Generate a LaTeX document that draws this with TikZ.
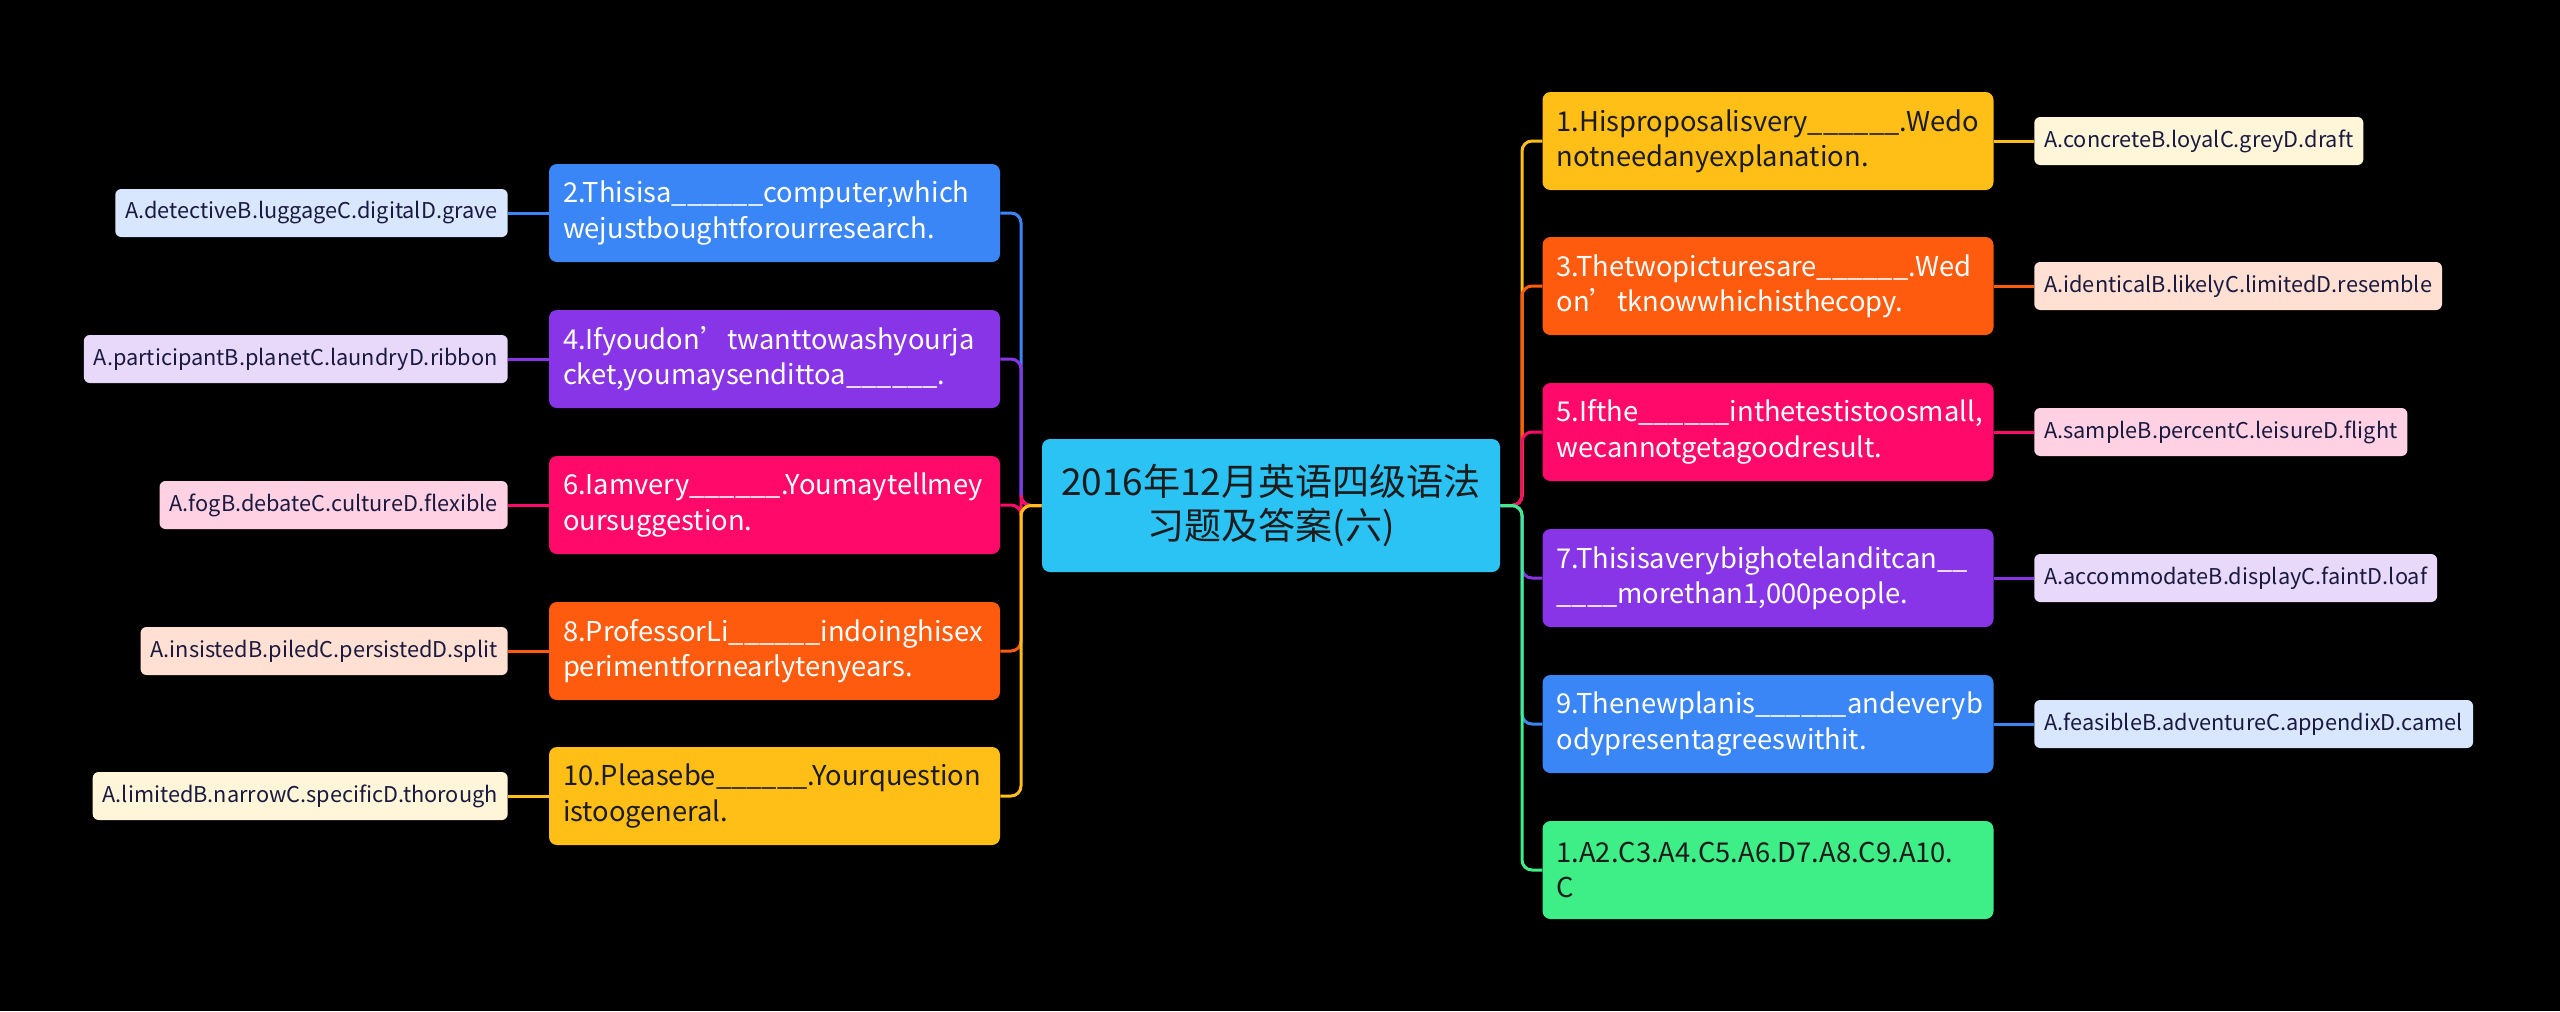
\documentclass[tikz,border=0pt]{standalone}
\usepackage{fontspec}
\setmainfont{Noto Sans CJK SC}
\newfontfamily\cjk{Noto Sans CJK SC}
\definecolor{cYel}{HTML}{FFBF17}
\definecolor{cOra}{HTML}{FF5B0F}
\definecolor{cPnk}{HTML}{FF0A6A}
\definecolor{cPur}{HTML}{8835E8}
\definecolor{cBlu}{HTML}{3B86F7}
\definecolor{cGrn}{HTML}{3DEF86}
\definecolor{cCya}{HTML}{2BC3F3}
\definecolor{lYel}{HTML}{FFF6DA}
\definecolor{lOra}{HTML}{FFE0D2}
\definecolor{lPnk}{HTML}{FFD1E3}
\definecolor{lPur}{HTML}{E8D9FB}
\definecolor{lBlu}{HTML}{D9E7FE}
\definecolor{dTxt}{HTML}{1C1C1C}
\definecolor{aTxt}{HTML}{1A1A40}
\begin{document}
\begin{tikzpicture}[x=0.75pt,y=-0.75pt,
  topic/.style={rounded corners=6pt, minimum width=338.25pt, minimum height=73.5pt,
    text width=317.25pt, inner xsep=10.5pt, inner ysep=0pt, align=left,
    font=\fontsize{20.5}{26.5}\selectfont},
  ans/.style={rounded corners=4.5pt, minimum height=36pt, inner xsep=7.5pt, inner ysep=0pt,
    text=aTxt, font=\fontsize{16.3}{18}\selectfont},
  link/.style={line width=2.25pt, rounded corners=7.5pt}]
\fill[black] (0,0) rectangle (2560,1011);
\useasboundingbox (0,0) rectangle (2560,1011);

% central
\node[rounded corners=6pt, fill=cCya, text=dTxt, minimum width=343.5pt, minimum height=99.75pt,
  align=center, font=\cjk\fontsize{27.8}{33}\selectfont] (c) at (1271,505.5)
  {2016年12月英语四级语法\\习题及答案(六)};

% left topics
\node[topic, fill=cBlu, text=white] (n2) at (774.5,213) {2.Thisisa\_\_\_\_\_\_computer,which\\wejustboughtforourresearch.};
\node[topic, fill=cPur, text=white] (n4) at (774.5,359) {4.Ifyoudon’twanttowashyourja\\cket,youmaysendittoa\_\_\_\_\_\_.};
\node[topic, fill=cPnk, text=white] (n6) at (774.5,505) {6.Iamvery\_\_\_\_\_\_.Youmaytellmey\\oursuggestion.};
\node[topic, fill=cOra, text=white] (n8) at (774.5,651) {8.ProfessorLi\_\_\_\_\_\_indoinghisex\\perimentfornearlytenyears.};
\node[topic, fill=cYel, text=dTxt] (n10) at (774.5,796) {10.Pleasebe\_\_\_\_\_\_.Yourquestion\\istoogeneral.};

% right topics
\node[topic, fill=cYel, text=dTxt] (n1) at (1768,141) {1.Hisproposalisvery\_\_\_\_\_\_.Wedo\\notneedanyexplanation.};
\node[topic, fill=cOra, text=white] (n3) at (1768,286) {3.Thetwopicturesare\_\_\_\_\_\_.Wed\\on’tknowwhichisthecopy.};
\node[topic, fill=cPnk, text=white] (n5) at (1768,432) {5.Ifthe\_\_\_\_\_\_inthetestistoosmall,\\wecannotgetagoodresult.};
\node[topic, fill=cPur, text=white] (n7) at (1768,578) {7.Thisisaverybighotelanditcan\_\_\\\_\_\_\_morethan1,000people.};
\node[topic, fill=cBlu, text=white] (n9) at (1768,724) {9.Thenewplanis\_\_\_\_\_\_andeveryb\\odypresentagreeswithit.};
\node[topic, fill=cGrn, text=dTxt] (nk) at (1768,870) {1.A2.C3.A4.C5.A6.D7.A8.C9.A10.\\C};

% left answers
\node[ans, fill=lBlu, anchor=east] (a2) at (508,213) {A.detectiveB.luggageC.digitalD.grave};
\node[ans, fill=lPur, anchor=east] (a4) at (508,359) {A.participantB.planetC.laundryD.ribbon};
\node[ans, fill=lPnk, anchor=east] (a6) at (508,505) {A.fogB.debateC.cultureD.flexible};
\node[ans, fill=lOra, anchor=east] (a8) at (508,651) {A.insistedB.piledC.persistedD.split};
\node[ans, fill=lYel, anchor=east] (a10) at (508,796) {A.limitedB.narrowC.specificD.thorough};

% right answers
\node[ans, fill=lYel, anchor=west] (a1) at (2034,141) {A.concreteB.loyalC.greyD.draft};
\node[ans, fill=lOra, anchor=west] (a3) at (2034,286) {A.identicalB.likelyC.limitedD.resemble};
\node[ans, fill=lPnk, anchor=west] (a5) at (2034,432) {A.sampleB.percentC.leisureD.flight};
\node[ans, fill=lPur, anchor=west] (a7) at (2034,578) {A.accommodateB.displayC.faintD.loaf};
\node[ans, fill=lBlu, anchor=west] (a9) at (2034,724) {A.feasibleB.adventureC.appendixD.camel};

% left branches
\draw[link, cBlu] (c.west) -- (1021,505.5) |- (n2.east);
\draw[link, cPur] (c.west) -- (1021,505.5) |- (n4.east);
\draw[link, cPnk] (c.west) -- (1021,505.5) |- (n6.east);
\draw[link, cOra] (c.west) -- (1021,505.5) |- (n8.east);
\draw[link, cYel] (c.west) -- (1021,505.5) |- (n10.east);
% right branches
\draw[link, cYel] (c.east) -- (1522,505.5) |- (n1.west);
\draw[link, cOra] (c.east) -- (1522,505.5) |- (n3.west);
\draw[link, cPnk] (c.east) -- (1522,505.5) |- (n5.west);
\draw[link, cPur] (c.east) -- (1522,505.5) |- (n7.west);
\draw[link, cBlu] (c.east) -- (1522,505.5) |- (n9.west);
\draw[link, cGrn] (c.east) -- (1522,505.5) |- (nk.west);

% answer links
\draw[link, cBlu] (n2.west) -- (a2.east);
\draw[link, cPur] (n4.west) -- (a4.east);
\draw[link, cPnk] (n6.west) -- (a6.east);
\draw[link, cOra] (n8.west) -- (a8.east);
\draw[link, cYel] (n10.west) -- (a10.east);
\draw[link, cYel] (n1.east) -- (a1.west);
\draw[link, cOra] (n3.east) -- (a3.west);
\draw[link, cPnk] (n5.east) -- (a5.west);
\draw[link, cPur] (n7.east) -- (a7.west);
\draw[link, cBlu] (n9.east) -- (a9.west);
\end{tikzpicture}
\end{document}
